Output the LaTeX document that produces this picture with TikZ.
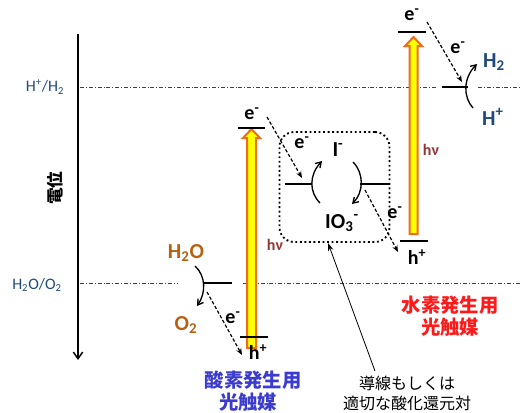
\documentclass[tikz,border=0pt]{standalone}
\usepackage{fontspec}
\setmainfont{Carlito}
\newfontfamily\jp{Noto Sans CJK JP}
\usetikzlibrary{arrows.meta}
\definecolor{navy}{HTML}{1F497D}
\definecolor{brownor}{HTML}{B8600F}
\definecolor{hvred}{HTML}{953735}
\definecolor{jblue}{HTML}{3B3BCF}
\definecolor{jred}{HTML}{FF1A1A}
\definecolor{arrfill}{HTML}{FFFF00}
\definecolor{arrline}{HTML}{F26A1B}
\tikzset{
  lvl/.style={line width=1.6pt},
  ref/.style={line width=0.6pt, dash pattern=on 3pt off 1.5pt on 0.6pt off 1.5pt, black!75},
  ebar/.style={dashed, line width=0.9pt, dash pattern=on 2.5pt off 1.5pt, -{Stealth[length=5pt,width=4pt]}},
  cyc/.style={line width=1pt, -{Straight Barb[length=4pt,width=5pt]}},
  lab/.style={inner sep=0pt, font=\bfseries\fontsize{15}{17}\selectfont},
  chem/.style={inner sep=0pt, font=\bfseries\fontsize{16}{18}\selectfont},
  hv/.style={inner sep=0pt, text=hvred, font=\bfseries\fontsize{12}{14}\selectfont},
  big/.style={draw=arrline, fill=arrfill, line width=1.5pt, line join=miter},
}
\begin{document}
\begin{tikzpicture}[x=0.75pt,y=-0.75pt]
\useasboundingbox (0,0) rectangle (521,412);
\clip (0,0) rectangle (521,412);
% axis
\coordinate (axtop) at (78,34);
\coordinate (axbot) at (78,360);
\draw[line width=1.1pt, -{Straight Barb[length=5pt,width=7pt]}] (axtop) -- (axbot);
\node[inner sep=0pt, rotate=90, font=\jp\bfseries\fontsize{12.5}{14}\selectfont] (pot) at (55,188) {電位};
% reference levels
\node[inner sep=0pt, text=navy, font=\fontsize{12}{14}\selectfont] (hh) at (45,87) {H\textsuperscript{+}/H\textsubscript{2}};
\node[inner sep=0pt, text=navy, font=\fontsize{12}{14}\selectfont] (ho) at (37,285) {H\textsubscript{2}O/O\textsubscript{2}};
\draw[ref] (80,87) -- (438,87);
\draw[ref] (478,87) -- (521,87);
\draw[ref] (80,283) -- (178,283);
\draw[ref] (243,283) -- (521,283);
% ---- left photocatalyst (O2)
\draw[big] (247,348) -- (247,138) -- (243,138) -- (251.5,129) -- (260,138) -- (256,138) -- (256,348) -- cycle;
\coordinate (lcbA) at (238,128); \coordinate (lcbB) at (265,128);
\coordinate (lvbA) at (240,337); \coordinate (lvbB) at (268,337);
\draw[lvl] (lcbA) -- (lcbB);
\draw[lvl] (lvbA) -- (lvbB);
\node[lab] (le) at (252,114) {e\textsuperscript{-}};
\node[lab] (lh) at (258,352) {h\textsuperscript{+}};
\node[hv] (lhv) at (275,245) {hν};
% water oxidation
\coordinate (owA) at (203,283); \coordinate (owB) at (232,283);
\draw[lvl] (owA) -- (owB);
\node[chem, text=brownor] (h2o) at (186,253) {H\textsubscript{2}O};
\node[chem, text=brownor] (o2) at (186,325) {O\textsubscript{2}};
\coordinate (oa1) at (195,266); \coordinate (oa2) at (197,306);
\draw[cyc] (oa1) .. controls (206,276) and (206,293) .. (oa2);
\coordinate (e3a) at (207,292); \coordinate (e3b) at (242,355);
\draw[ebar] (e3a) -- (e3b);
\node[lab] (e3) at (233,318) {e\textsuperscript{-}};
\node[inner sep=0pt, text=jblue, font=\jp\bfseries\fontsize{14.5}{16}\selectfont] (bl1) at (253,380) {酸素発生用};
\node[inner sep=0pt, text=jblue, font=\jp\bfseries\fontsize{14.5}{16}\selectfont] (bl2) at (248,402) {光触媒};
% ---- mediator box
\node[draw, dotted, line width=1.4pt, rounded corners=11pt, minimum width=82.5pt, minimum height=82.5pt, inner sep=0pt] (box) at (334.5,187) {};
\coordinate (mlA) at (285,184); \coordinate (mlB) at (312,184);
\coordinate (mrA) at (360,184); \coordinate (mrB) at (390,184);
\draw[lvl] (mlA) -- (mlB);
\draw[lvl] (mrA) -- (mrB);
\coordinate (ml1) at (320,203); \coordinate (ml2) at (322,161);
\draw[cyc] (ml1) .. controls (309,192) and (309,175) .. (ml2);
\coordinate (mr1) at (353,162); \coordinate (mr2) at (352,204);
\draw[cyc] (mr1) .. controls (364,173) and (364,192) .. (mr2);
\node[chem] (iod) at (338,150) {I\textsuperscript{-}};
\node[chem] (io3) at (342,223) {IO\textsubscript{3}\textsuperscript{-}};
\node[lab] (me) at (302,143) {e\textsuperscript{-}};
\coordinate (e1a) at (267,117); \coordinate (e1b) at (302,178);
\draw[ebar] (e1a) -- (e1b);
\coordinate (e2a) at (365,190); \coordinate (e2b) at (398,252);
\draw[ebar] (e2a) -- (e2b);
\node[lab] (e2) at (395,213) {e\textsuperscript{-}};
% ---- right photocatalyst (H2)
\draw[big] (409.5,234) -- (409.5,46) -- (405,46) -- (413.5,37) -- (422,46) -- (417.5,46) -- (417.5,234) -- cycle;
\coordinate (rcbA) at (398,32); \coordinate (rcbB) at (426,32);
\coordinate (rvbA) at (400,241); \coordinate (rvbB) at (428,241);
\draw[lvl] (rcbA) -- (rcbB);
\draw[lvl] (rvbA) -- (rvbB);
\node[lab] (re) at (412,15) {e\textsuperscript{-}};
\node[lab] (rh) at (417,257) {h\textsuperscript{+}};
\node[hv] (rhv) at (431,150) {hν};
\coordinate (e4a) at (427,22); \coordinate (e4b) at (462,82);
\draw[ebar] (e4a) -- (e4b);
\node[lab] (e4) at (458,48) {e\textsuperscript{-}};
\coordinate (hlA) at (442,87); \coordinate (hlB) at (468,87);
\draw[lvl] (hlA) -- (hlB);
\coordinate (ha1) at (473,108); \coordinate (ha2) at (477,64);
\draw[cyc] (ha1) .. controls (463,97) and (463,78) .. (ha2);
\node[chem, text=navy] (h2) at (494,62) {H\textsubscript{2}};
\node[chem, text=navy] (hp) at (493,117) {H\textsuperscript{+}};
\node[inner sep=0pt, text=jred, font=\jp\bfseries\fontsize{14.5}{16}\selectfont] (rd1) at (450,305) {水素発生用};
\node[inner sep=0pt, text=jred, font=\jp\bfseries\fontsize{14.5}{16}\selectfont] (rd2) at (450,327) {光触媒};
% ---- annotation
\node[inner sep=0pt, font=\jp\fontsize{12}{14}\selectfont] (n1) at (407,383) {導線もしくは};
\node[inner sep=0pt, font=\jp\fontsize{12}{14}\selectfont] (n2) at (407,403) {適切な酸化還元対};
\draw[line width=0.6pt, -{Stealth[length=6pt,width=4pt]}] (375,371) -- (box.south -| 328,0);
\end{tikzpicture}
\end{document}
